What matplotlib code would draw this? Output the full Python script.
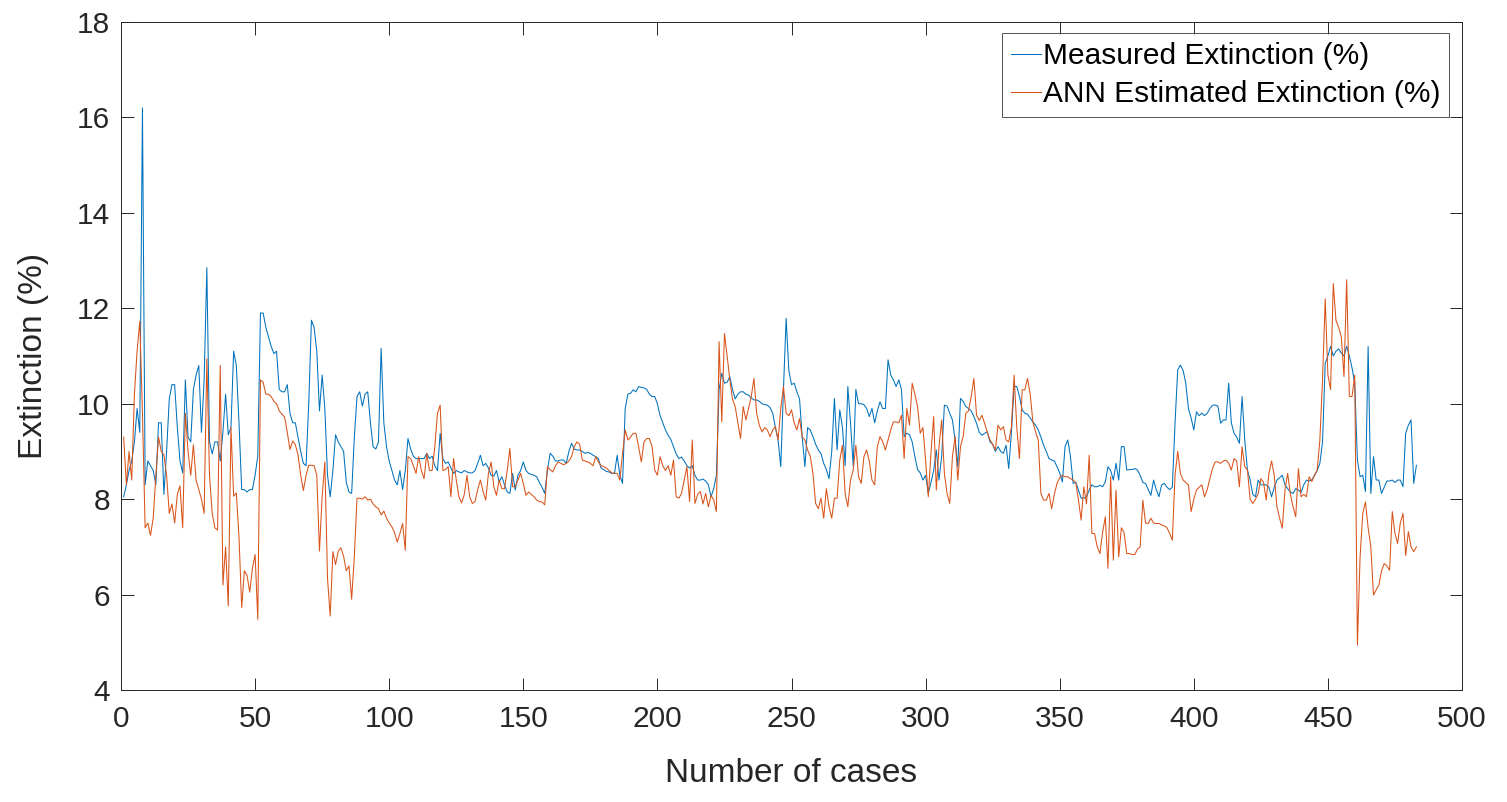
import numpy as np
import matplotlib
matplotlib.use("Agg")
import matplotlib.pyplot as plt

# Measured and ANN-estimated extinction (%) for each case, in case order
measured = [
    8.05, 8.3, 8.6, 8.8, 9.2, 9.9, 9.4, 16.2, 8.3, 8.8,
    8.7, 8.6, 8.3, 9.6, 9.6, 8.1, 9.0, 10.1, 10.4, 10.4,
    9.5, 8.8, 8.55, 10.5, 9.3, 9.2, 10.3, 10.6, 10.8, 9.4,
    10.5, 12.85, 9.2, 8.95, 9.2, 9.2, 8.8, 9.4, 10.2, 9.35,
    9.5, 11.1, 10.8, 9.6, 8.2, 8.2, 8.15, 8.2, 8.2, 8.5,
    8.9, 11.9, 11.9, 11.6, 11.4, 11.2, 11.05, 11.1, 10.3, 10.25,
    10.25, 10.4, 9.8, 9.6, 9.6, 9.3, 9.0, 8.75, 8.7, 10.0,
    11.75, 11.6, 11.1, 9.85, 10.6, 9.9, 8.5, 8.05, 8.6, 9.35,
    9.2, 9.1, 9.0, 8.35, 8.15, 8.12, 9.3, 10.15, 10.25, 9.95,
    10.2, 10.25, 9.6, 9.1, 9.05, 9.2, 11.16, 9.6, 9.1, 8.8,
    8.6, 8.4, 8.3, 8.6, 8.2, 8.6, 9.27, 9.05, 8.9, 8.85,
    8.85, 8.85, 8.85, 8.96, 8.85, 8.9, 8.7, 8.6, 9.38, 8.85,
    8.75, 8.78, 8.65, 8.54, 8.6, 8.57, 8.55, 8.6, 8.57, 8.55,
    8.55, 8.6, 8.75, 8.92, 8.7, 8.75, 8.65, 8.5, 8.48, 8.6,
    8.36, 8.47, 8.3, 8.15, 8.12, 8.54, 8.19, 8.5, 8.6, 8.78,
    8.6, 8.54, 8.52, 8.5, 8.47, 8.35, 8.25, 8.12, 8.6, 8.96,
    8.9, 8.8, 8.8, 8.82, 8.82, 8.75, 9.0, 9.17, 9.05, 9.03,
    9.03, 9.0, 8.96, 8.98, 8.96, 8.92, 8.89, 8.85, 8.65, 8.62,
    8.58, 8.57, 8.54, 8.54, 8.92, 8.5, 8.33, 9.9, 10.2, 10.22,
    10.29, 10.25, 10.36, 10.34, 10.33, 10.3, 10.2, 10.15, 10.15, 10.0,
    9.75, 9.6, 9.45, 9.34, 9.25, 9.1, 8.95, 8.85, 8.88, 8.8,
    8.7, 8.65, 8.7, 8.5, 8.4, 8.4, 8.42, 8.38, 8.3, 8.05,
    8.22, 8.5, 10.3, 10.64, 10.43, 10.45, 10.57, 10.3, 10.1, 10.2,
    10.25, 10.25, 10.2, 10.18, 10.12, 10.08, 10.08, 10.05, 10.0, 9.98,
    9.97, 9.92, 9.8, 9.5, 9.24, 8.68, 10.3, 11.79, 10.7, 10.4,
    10.43, 10.25, 10.1, 9.3, 8.68, 9.5, 9.45, 9.31, 9.15, 9.03,
    8.95, 8.75, 8.62, 8.43, 9.0, 10.11, 9.03, 9.87, 9.5, 8.7,
    10.36, 9.6, 8.7, 10.3, 10.0, 10.0, 9.98, 9.9, 9.73, 9.9,
    9.6, 9.85, 10.04, 9.9, 9.9, 10.92, 10.6, 10.5, 10.36, 10.5,
    10.3, 9.31, 9.38, 9.35, 9.2, 8.89, 8.62, 8.55, 8.4, 8.5,
    8.12, 8.35, 8.6, 9.03, 8.4, 8.9, 9.97, 9.95, 9.8, 9.66,
    9.24, 8.68, 10.11, 10.05, 9.94, 9.9, 9.85, 9.73, 9.59, 9.4,
    9.34, 9.38, 9.41, 9.2, 9.15, 9.0, 9.1, 9.0, 8.96, 9.13,
    8.64, 9.4, 10.36, 10.36, 10.15, 9.87, 9.8, 9.78, 9.7, 9.62,
    9.55, 9.45, 9.3, 9.13, 9.0, 8.85, 8.82, 8.8, 8.68, 8.55,
    8.36, 9.1, 9.24, 8.9, 8.33, 8.35, 8.19, 8.02, 8.02, 8.05,
    8.19, 8.3, 8.26, 8.26, 8.29, 8.26, 8.36, 8.68, 8.6, 8.4,
    8.75, 8.4, 9.1, 9.1, 8.61, 8.62, 8.62, 8.64, 8.61, 8.5,
    8.35, 8.33, 8.2, 8.08, 8.4, 8.2, 8.05, 8.3, 8.33, 8.25,
    8.2, 8.25, 9.59, 10.71, 10.81, 10.7, 10.43, 9.9, 9.7, 9.45,
    9.83, 9.75, 9.8, 9.75, 9.8, 9.9, 9.97, 9.97, 9.95, 9.59,
    9.66, 9.66, 10.43, 9.6, 9.38, 9.3, 9.17, 10.15, 9.24, 8.61,
    8.4, 8.1, 8.05, 8.4, 8.3, 8.3, 8.3, 8.25, 8.05, 8.25,
    8.4, 8.45, 8.5, 8.3, 8.22, 8.15, 8.12, 8.22, 8.19, 8.14,
    8.3, 8.4, 8.38, 8.4, 8.5, 8.6, 8.75, 9.2, 10.85, 11.0,
    11.2, 11.0, 11.1, 11.15, 11.06, 11.0, 11.2, 11.0, 10.75, 10.43,
    8.82, 8.47, 8.5, 8.16, 11.2, 8.12, 8.89, 8.4, 8.4, 8.12,
    8.25, 8.38, 8.38, 8.4, 8.35, 8.4, 8.4, 8.26, 9.38, 9.55,
    9.66, 8.33, 8.71,
]

estimated = [
    9.3, 8.3, 9.0, 8.4, 10.2, 11.1, 11.73, 9.8, 7.4, 7.5,
    7.24, 7.6, 8.5, 9.3, 9.0, 8.93, 8.5, 7.7, 7.9, 7.5,
    8.1, 8.28, 7.4, 9.8, 9.0, 8.5, 9.14, 8.4, 8.2, 8.0,
    7.7, 10.94, 8.5, 7.7, 7.4, 7.35, 10.8, 6.2, 7.0, 5.76,
    9.5, 8.06, 8.13, 7.2, 5.73, 6.5, 6.4, 6.05, 6.55, 6.84,
    5.48, 10.5, 10.45, 10.2, 10.2, 10.15, 10.05, 10.0, 9.85, 9.78,
    9.72, 9.4, 9.04, 9.22, 9.14, 8.93, 8.5, 8.18, 8.5, 8.71,
    8.71, 8.7, 8.5, 6.91, 8.06, 8.78, 6.34, 5.55, 6.9, 6.63,
    6.91, 6.98, 6.8, 6.5, 6.6, 5.9, 6.8, 8.02, 8.02, 8.0,
    8.05, 7.98, 8.0, 7.9, 7.84, 7.8, 7.67, 7.75, 7.6, 7.5,
    7.42, 7.3, 7.1, 7.28, 7.49, 6.93, 8.89, 8.85, 8.7, 8.54,
    8.89, 8.6, 8.43, 8.96, 8.6, 8.6, 9.1, 9.8, 9.97, 8.6,
    8.62, 8.68, 8.05, 8.85, 8.4, 8.05, 7.92, 8.1, 8.5, 8.05,
    7.91, 7.95, 8.2, 8.4, 8.16, 7.98, 8.54, 8.78, 8.26, 8.08,
    8.4, 8.22, 8.22, 8.6, 9.06, 8.26, 8.26, 8.4, 8.54, 8.33,
    8.08, 8.15, 8.1, 8.05, 7.98, 7.95, 7.94, 7.88, 8.68, 8.62,
    8.57, 8.7, 8.78, 8.75, 8.72, 8.75, 8.8, 8.89, 9.1, 9.2,
    9.15, 8.82, 8.8, 8.78, 8.75, 8.7, 8.89, 8.78, 8.7, 8.68,
    8.65, 8.6, 8.55, 8.54, 8.54, 8.4, 8.96, 9.45, 9.24, 9.3,
    9.38, 9.38, 9.1, 8.78, 9.2, 9.27, 9.27, 9.1, 8.61, 8.5,
    8.89, 8.7, 8.6, 8.7, 8.5, 8.82, 8.05, 8.02, 8.12, 8.4,
    8.68, 7.95, 9.24, 7.91, 8.1, 8.16, 7.9, 8.12, 7.84, 8.08,
    7.98, 7.74, 11.3, 9.62, 11.47, 11.0, 10.5, 10.1, 9.94, 9.6,
    9.27, 9.94, 9.66, 9.9, 10.15, 10.53, 9.8, 9.55, 9.41, 9.5,
    9.45, 9.31, 9.45, 9.52, 9.24, 9.9, 10.36, 9.8, 9.75, 9.87,
    9.6, 9.45, 9.69, 9.3, 9.24, 9.03, 8.9, 8.54, 7.91, 7.8,
    8.02, 7.6, 8.22, 7.84, 7.6, 8.02, 8.02, 8.82, 9.13, 8.12,
    7.84, 8.4, 8.61, 9.13, 8.47, 8.33, 8.89, 9.03, 8.8, 8.4,
    8.3, 9.1, 9.31, 9.2, 9.03, 9.24, 9.45, 9.62, 9.62, 9.6,
    9.76, 8.85, 9.9, 9.55, 10.43, 10.2, 9.94, 9.38, 9.5, 8.82,
    8.05, 8.96, 9.73, 8.19, 9.1, 9.66, 8.54, 8.12, 7.91, 8.89,
    9.31, 8.4, 9.1, 9.31, 9.8, 9.85, 10.15, 10.53, 9.76, 9.65,
    9.76, 9.59, 9.4, 9.24, 9.15, 9.03, 9.55, 9.45, 9.52, 9.24,
    9.2, 9.52, 10.6, 9.5, 8.85, 10.29, 10.29, 10.53, 10.2, 9.62,
    9.41, 9.24, 8.12, 7.98, 7.98, 8.12, 7.8, 8.1, 8.33, 8.45,
    8.5, 8.47, 8.47, 8.43, 8.4, 8.35, 7.98, 7.56, 8.26, 7.9,
    8.92, 7.28, 7.28, 7.0, 6.86, 7.3, 7.63, 6.55, 8.47, 6.72,
    8.19, 6.79, 7.4, 7.3, 6.86, 6.86, 6.84, 6.84, 6.95, 7.0,
    7.98, 7.5, 7.49, 7.6, 7.5, 7.49, 7.49, 7.46, 7.44, 7.4,
    7.28, 7.14, 8.5, 9.0, 8.54, 8.4, 8.35, 8.3, 7.74, 8.0,
    8.19, 8.25, 8.3, 8.05, 8.2, 8.43, 8.65, 8.78, 8.78, 8.75,
    8.8, 8.82, 8.75, 8.61, 8.85, 8.8, 8.26, 9.1, 8.68, 8.61,
    8.0, 7.91, 8.0, 8.12, 8.43, 8.35, 7.98, 8.54, 8.8, 8.5,
    7.84, 7.6, 7.39, 8.2, 8.54, 8.1, 7.84, 7.63, 8.64, 8.05,
    8.1, 8.05, 8.47, 8.37, 8.5, 8.61, 9.24, 10.5, 12.2, 10.6,
    10.3, 12.52, 11.75, 11.6, 11.4, 10.57, 12.6, 10.15, 10.15, 10.6,
    4.94, 6.79, 7.7, 7.94, 7.4, 7.0, 5.99, 6.1, 6.2, 6.5,
    6.65, 6.6, 6.51, 7.74, 7.28, 7.07, 7.5, 7.7, 6.82, 7.32,
    7.0, 6.9, 7.0,
]

assert len(measured) == len(estimated), (len(measured), len(estimated))
cases = np.arange(1, len(measured) + 1)

x_ticks = [0, 50, 100, 150, 200, 250, 300, 350, 400, 450, 500]
y_ticks = [4, 6, 8, 10, 12, 14, 16, 18]

ink = "#262626"
plt.rcParams["font.family"] = ["Liberation Sans", "DejaVu Sans"]

fig = plt.figure(figsize=(15.07, 8.02), dpi=100)
ax = fig.add_axes([121 / 1507, 112 / 802, 1341 / 1507, 668 / 802])

ax.plot(cases, measured, color="#0072BD", linewidth=0.75, label="Measured Extinction (%)")
ax.plot(cases, estimated, color="#D95319", linewidth=0.75, label="ANN Estimated Extinction (%)")

ax.set_xlim(0, 500)
ax.set_ylim(4, 18)
ax.set_xticks(x_ticks)
ax.set_yticks(y_ticks)

# box with inward ticks on all four sides
for side in ax.spines.values():
    side.set_color(ink)
    side.set_linewidth(0.7)
ax.tick_params(direction="in", length=9, width=0.7, color=ink,
               labelcolor=ink, labelsize=21.5, top=True, right=True)
ax.tick_params(axis="x", pad=11)
ax.tick_params(axis="y", pad=8)

ax.set_xlabel("Number of cases", fontsize=24, color=ink, labelpad=18)
ax.set_ylabel("Extinction (%)", fontsize=24, color=ink, labelpad=20)

leg = ax.legend(loc="upper right", bbox_to_anchor=(1 - 13 / 1341, 1 - 11 / 668),
                borderaxespad=0, fontsize=21.5, frameon=True, fancybox=False,
                handlelength=1.0, handletextpad=0.05, labelspacing=0.35,
                borderpad=0.3)
leg.get_frame().set_edgecolor(ink)
leg.get_frame().set_linewidth(0.7)
for t in leg.get_texts():
    t.set_color("black")

fig.savefig("out.png", dpi=100, facecolor="white")
